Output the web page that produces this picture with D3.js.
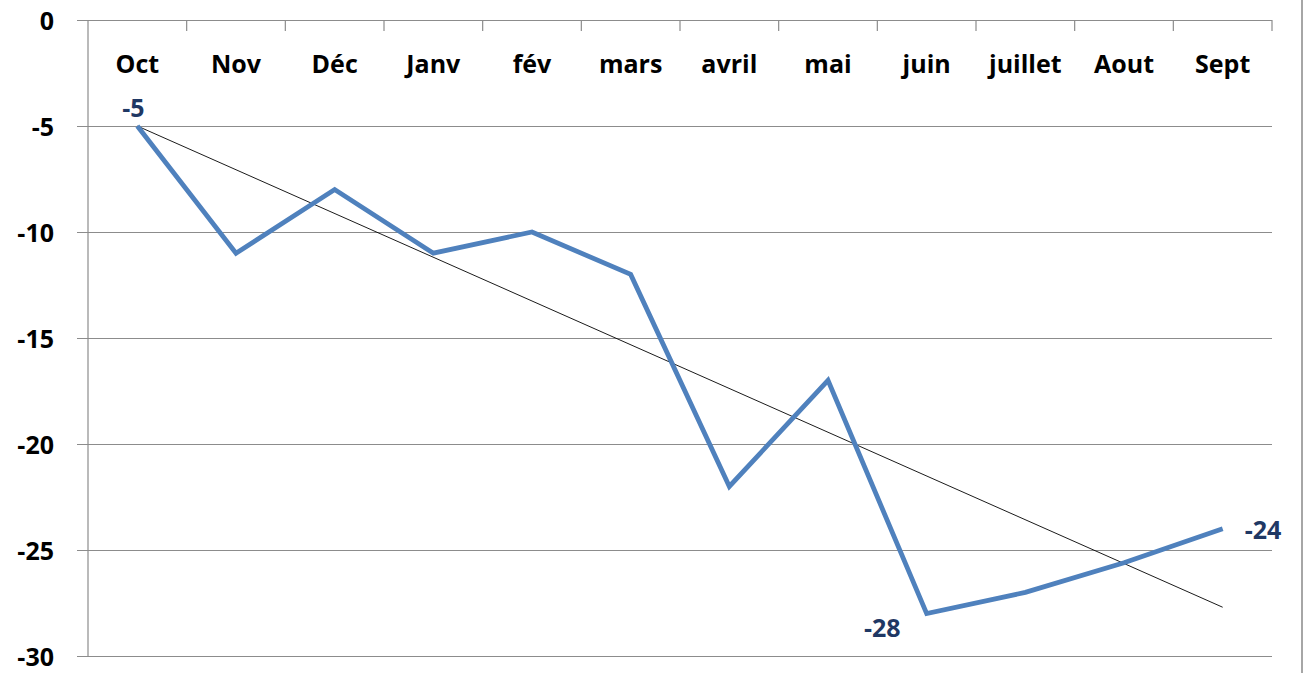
<!DOCTYPE html>
<html>
<head>
<meta charset="utf-8">
<script src="https://cdn.jsdelivr.net/npm/d3@7"></script>
<style>
  body { margin: 0; background: #fff; }
  svg { display: block; }
  svg text { font-family: "Open Sans", "Noto Sans", sans-serif; font-weight: bold; }
  .tick text { font-size: 25px; fill: #000; }
  .lbl { font-size: 25px; fill: #1f3864; }
</style>
</head>
<body>
<div id="chart"></div>
<script>
// data
const months = ['Oct', 'Nov', 'Déc', 'Janv', 'fév', 'mars', 'avril', 'mai', 'juin', 'juillet', 'Aout', 'Sept'];
const values = [-5, -11, -8, -11, -10, -12, -22, -17, -28, -27, -25.6, -24];
const yTicks = [0, -5, -10, -15, -20, -25, -30];
// trend line end values (first and last month)
const trendEnds = [-5, -27.7];
// labelled points: index, dx, dy, anchor
const labelled = [
  { i: 0, dx: -4, dy: -9, anchor: 'middle' },
  { i: 8, dx: -26, dy: 23, anchor: 'end' },
  { i: 11, dx: 22, dy: 10, anchor: 'start' }
];

function draw() {
  const W = 1306, H = 673;
  const margin = { top: 20, right: 34, bottom: 17, left: 88 };
  const width = W - margin.left - margin.right;
  const height = H - margin.top - margin.bottom;
  const fmt = d => String(d);

  const svg = d3.select('#chart').append('svg')
    .attr('width', W).attr('height', H);

  // right frame edge
  svg.append('line')
    .attr('x1', 1302).attr('x2', 1302).attr('y1', 0).attr('y2', H)
    .style('stroke', '#a6a6a6').style('stroke-width', 2);

  const g = svg.append('g').attr('transform', `translate(${margin.left},${margin.top})`);

  const xBand = d3.scaleBand().domain(months).range([0, width]);
  const xScale = d => xBand(d) + xBand.bandwidth() / 2;
  const yScale = d3.scaleLinear().domain([0, -30]).range([0, height]);

  // horizontal grid + y axis
  const yAxis = d3.axisLeft(yScale).tickValues(yTicks).tickSize(width + 11).tickPadding(23)
    .tickFormat(fmt);
  const yG = g.append('g').attr('class', 'y axis')
    .attr('transform', `translate(${width},0)`)
    .call(yAxis);
  yG.select('.domain').remove();
  yG.selectAll('.tick line').style('stroke', '#8c8c8c').style('stroke-width', 1.2);
  yG.selectAll('.tick text').attr('dy', '0.36em');

  // vertical axis line
  g.append('line').attr('x1', 0).attr('x2', 0).attr('y1', 0).attr('y2', height)
    .style('stroke', '#8c8c8c').style('stroke-width', 1.2);

  // top category axis with tick marks at boundaries
  const xAxis = d3.axisBottom(xBand).tickSize(0).tickPadding(0);
  const xG = g.append('g').attr('class', 'x axis').call(xAxis);
  xG.select('.domain').remove();
  xG.selectAll('.tick text').attr('y', 44).attr('dy', '0.35em');
  const bounds = months.map(m => xBand(m)).concat([width]).slice(1);
  xG.selectAll('.bound').data(bounds).enter().append('line')
    .attr('class', 'bound')
    .attr('x1', d => d).attr('x2', d => d).attr('y1', 0).attr('y2', 11)
    .style('stroke', '#8c8c8c').style('stroke-width', 1.2);

  // trend line
  g.append('line')
    .attr('x1', xScale(months[0])).attr('y1', yScale(trendEnds[0]))
    .attr('x2', xScale(months[months.length - 1])).attr('y2', yScale(trendEnds[1]))
    .style('stroke', '#000').style('stroke-width', 0.9);

  // data line
  const line = d3.line()
    .x((d, i) => xScale(months[i]))
    .y(d => yScale(d));
  g.append('path').datum(values)
    .attr('d', line)
    .style('fill', 'none')
    .style('stroke', '#4f81bd')
    .style('stroke-width', 4.8)
    .style('stroke-linejoin', 'miter');

  // data labels
  g.selectAll('.lbl').data(labelled).enter().append('text')
    .attr('class', 'lbl')
    .attr('x', d => xScale(months[d.i]) + d.dx)
    .attr('y', d => yScale(values[d.i]) + d.dy)
    .attr('text-anchor', d => d.anchor)
    .text(d => fmt(values[d.i]));
}
draw();
</script>
</body>
</html>
